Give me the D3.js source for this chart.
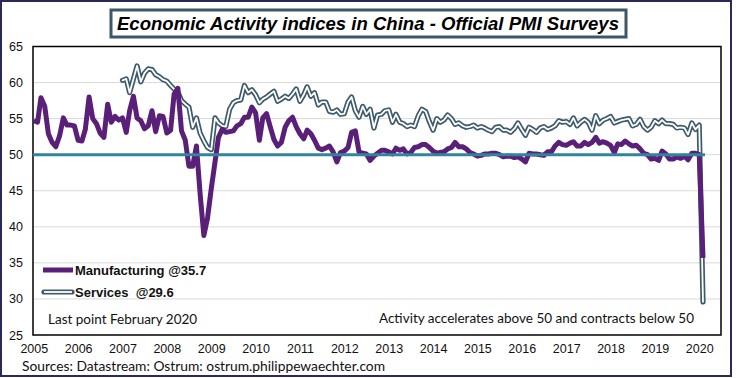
<!DOCTYPE html>
<html>
<head>
<meta charset="utf-8">
<script src="https://cdn.jsdelivr.net/npm/d3@7"></script>
<style>
  html, body { margin: 0; padding: 0; background: #fff; }
  svg { display: block; }
</style>
</head>
<body>
<svg id="chart" width="736" height="378"></svg>
<script>
// ---------------- DATA ----------------
const titleText = "Economic Activity indices in China - Official PMI Surveys";
const mfgStart = "2005-01";
const srvStart = "2007-01";
// Manufacturing PMI, monthly from Jan 2005 to Feb 2020
const mfg2005 = [54.7, 54.5, 57.9, 56.7, 52.9, 51.7, 51.1, 52.6, 55.1, 54.1, 54.1, 54.0];
const mfg2006 = [52.0, 51.9, 53.5, 58.0, 55.0, 54.3, 53.0, 52.4, 57.0, 54.5, 55.3, 54.8];
const mfg2007 = [55.1, 53.1, 56.1, 58.1, 55.1, 54.7, 53.6, 54.0, 56.1, 53.2, 55.4, 55.3];
const mfg2008 = [53.0, 53.4, 58.4, 59.2, 53.3, 52.0, 48.4, 48.4, 51.2, 44.6, 38.8, 41.2];
const mfg2009 = [45.3, 49.0, 52.4, 53.5, 53.1, 53.2, 53.3, 54.0, 54.3, 55.2, 55.2, 56.6];
const mfg2010 = [55.8, 52.0, 55.1, 55.7, 53.9, 52.1, 51.2, 51.7, 53.8, 54.7, 55.2, 53.9];
const mfg2011 = [52.9, 52.2, 53.4, 52.9, 52.0, 50.9, 50.7, 50.9, 51.2, 50.4, 49.0, 50.3];
const mfg2012 = [50.5, 51.0, 53.1, 53.3, 50.4, 50.2, 50.1, 49.2, 49.8, 50.2, 50.6, 50.6];
const mfg2013 = [50.4, 50.1, 50.9, 50.6, 50.8, 50.1, 50.3, 51.0, 51.1, 51.4, 51.4, 51.0];
const mfg2014 = [50.5, 50.2, 50.3, 50.4, 50.8, 51.0, 51.7, 51.1, 51.1, 50.8, 50.3, 50.1];
const mfg2015 = [49.8, 49.9, 50.1, 50.1, 50.2, 50.2, 50.0, 49.7, 49.8, 49.8, 49.6, 49.7];
const mfg2016 = [49.4, 49.0, 50.2, 50.1, 50.1, 50.0, 49.9, 50.4, 50.4, 51.2, 51.7, 51.4];
const mfg2017 = [51.3, 51.6, 51.8, 51.2, 51.2, 51.7, 51.4, 51.7, 52.4, 51.6, 51.8, 51.6];
const mfg2018 = [51.3, 50.3, 51.5, 51.4, 51.9, 51.5, 51.2, 51.3, 50.8, 50.2, 50.0, 49.4];
const mfg2019 = [49.5, 49.2, 50.5, 50.1, 49.4, 49.4, 49.7, 49.5, 49.8, 49.3, 50.2, 50.2];
const mfg2020 = [50.0, 35.7];
// Services (non-manufacturing) PMI, monthly from Jan 2007 to Feb 2020
const srv2007 = [60.3, 60.5, 58.6, 60.5, 62.3, 60.1, 61.3, 61.9, 61.8, 61.1, 60.8, 60.4];
const srv2008 = [60.2, 59.6, 59.1, 58.7, 57.5, 57.0, 56.6, 53.8, 55.1, 53.0, 51.9, 51.0];
const srv2009 = [50.7, 55.1, 54.4, 54.0, 53.9, 56.3, 57.2, 57.5, 57.6, 59.6, 58.6, 59.0];
const srv2010 = [58.3, 57.2, 57.7, 58.0, 58.4, 58.8, 57.4, 57.7, 58.1, 57.8, 58.4, 59.1];
const srv2011 = [57.4, 58.3, 59.4, 58.1, 58.6, 56.9, 57.3, 57.3, 56.0, 55.9, 56.2, 55.6];
const srv2012 = [55.7, 57.3, 58.0, 56.1, 55.2, 56.7, 55.6, 56.3, 53.7, 55.5, 55.6, 56.1];
const srv2013 = [56.2, 54.5, 55.6, 54.5, 54.3, 53.9, 54.1, 53.9, 55.4, 56.3, 56.0, 54.6];
const srv2014 = [53.4, 55.0, 54.5, 54.8, 55.5, 55.0, 54.2, 54.4, 54.0, 53.8, 53.9, 54.1];
const srv2015 = [53.7, 53.9, 53.7, 53.4, 53.2, 53.8, 53.9, 53.4, 53.4, 53.1, 53.6, 54.4];
const srv2016 = [53.5, 52.7, 53.8, 53.5, 53.1, 53.7, 53.9, 53.5, 53.7, 54.0, 54.7, 54.5];
const srv2017 = [54.6, 54.2, 55.1, 54.0, 54.5, 54.9, 54.5, 53.4, 55.4, 54.3, 54.8, 55.0];
const srv2018 = [55.3, 54.4, 54.6, 54.8, 54.9, 55.0, 54.0, 54.2, 54.9, 53.9, 53.4, 53.8];
const srv2019 = [54.7, 54.3, 54.8, 54.3, 54.3, 54.2, 53.7, 53.8, 53.7, 52.8, 54.4, 53.5];
const srv2020 = [54.1, 29.6];
const yTicks = [25, 30, 35, 40, 45, 50, 55, 60, 65];
const xYears = [2005, 2006, 2007, 2008, 2009, 2010, 2011, 2012, 2013, 2014, 2015, 2016, 2017, 2018, 2019, 2020];
const seriesNames = ["Manufacturing @35.7", "Services  @29.6"];
const noteLeft = "Last point February 2020";
const noteRight = "Activity accelerates above 50 and contracts below 50";
const sourceText = "Sources: Datastream: Ostrum: ostrum.philippewaechter.com";
const refLevel = 50;

// ---------------- BUILD ----------------
const parseM = d3.timeParse("%Y-%m");
function toSeries(start, values) {
  const s = parseM(start);
  return values.map((v, i) => ({ date: d3.timeMonth.offset(s, i), value: v }));
}
const mfg = toSeries(mfgStart, [].concat(mfg2005, mfg2006, mfg2007, mfg2008, mfg2009, mfg2010,
  mfg2011, mfg2012, mfg2013, mfg2014, mfg2015, mfg2016, mfg2017, mfg2018, mfg2019, mfg2020));
const srv = toSeries(srvStart, [].concat(srv2007, srv2008, srv2009, srv2010, srv2011, srv2012,
  srv2013, srv2014, srv2015, srv2016, srv2017, srv2018, srv2019, srv2020));

const svg = d3.select("#chart");
const plot = { left: 33, right: 721, top: 46.5, bottom: 335 };

const x = d3.scaleTime()
  .domain([parseM("2005-01"), parseM("2020-02")])
  .range([33.8, 703]);
const y = d3.scaleLinear().domain([25, 65]).range([plot.bottom, plot.top]);

// outer border
svg.append("rect").attr("x", 1).attr("y", 1).attr("width", 730).attr("height", 375)
  .attr("fill", "#fff").attr("stroke", "#2a2a5a").attr("stroke-width", 2);

// gridlines
svg.append("g").selectAll("line").data(yTicks.filter(d => d > 25 && d < 65)).join("line")
  .attr("x1", plot.left).attr("x2", plot.right)
  .attr("y1", d => y(d)).attr("y2", d => y(d))
  .attr("stroke", "#d9d9d9").attr("stroke-width", 1);

// y axis labels
const yAxis = d3.axisLeft(y).tickValues(yTicks).tickSize(0).tickPadding(10);
const gy = svg.append("g").attr("transform", `translate(${plot.left},0)`).call(yAxis);
gy.select(".domain").remove();
gy.selectAll("text").attr("font-family", "Liberation Sans, Arial, sans-serif")
  .attr("font-size", 12.5).attr("fill", "#111");

// x axis labels
const xAxis = d3.axisBottom(x).tickValues(xYears.map(yv => new Date(yv, 0, 1)))
  .tickFormat(d3.timeFormat("%Y")).tickSize(0).tickPadding(9);
const gx = svg.append("g").attr("transform", `translate(0,${plot.bottom})`).call(xAxis);
gx.select(".domain").remove();
gx.selectAll("text").attr("font-family", "Liberation Sans, Arial, sans-serif")
  .attr("font-size", 12.5).attr("fill", "#111");

// plot frame
svg.append("rect").attr("x", plot.left).attr("y", plot.top)
  .attr("width", plot.right - plot.left).attr("height", plot.bottom - plot.top)
  .attr("fill", "none").attr("stroke", "#000").attr("stroke-width", 1.5);

const line = d3.line().x(d => x(d.date)).y(d => y(d.value));

// services: double line
svg.append("path").datum(srv).attr("d", line).attr("fill", "none")
  .attr("stroke", "#3d5a6c").attr("stroke-width", 5.2)
  .attr("stroke-linejoin", "round").attr("stroke-linecap", "round");
svg.append("path").datum(srv).attr("d", line).attr("fill", "none")
  .attr("stroke", "#fff").attr("stroke-width", 1.8)
  .attr("stroke-linejoin", "round").attr("stroke-linecap", "round");

// manufacturing
svg.append("path").datum(mfg).attr("d", line).attr("fill", "none")
  .attr("stroke", "#5a1f78").attr("stroke-width", 5).attr("stroke-linejoin", "round");

// 50 line
svg.append("line").attr("x1", plot.left).attr("x2", x(parseM("2020-02")) + 2)
  .attr("y1", y(refLevel)).attr("y2", y(refLevel))
  .attr("stroke", "#31849b").attr("stroke-width", 3);

// legend
const lg = svg.append("g");
lg.append("line").attr("x1", 43).attr("x2", 73).attr("y1", 270).attr("y2", 270)
  .attr("stroke", "#5a1f78").attr("stroke-width", 5);
lg.append("line").attr("x1", 44).attr("x2", 72).attr("y1", 292).attr("y2", 292)
  .attr("stroke", "#3d5a6c").attr("stroke-width", 5.2).attr("stroke-linecap", "round");
lg.append("line").attr("x1", 44).attr("x2", 72).attr("y1", 292).attr("y2", 292)
  .attr("stroke", "#fff").attr("stroke-width", 1.8);
lg.selectAll("text").data(seriesNames).join("text")
  .attr("x", 75).attr("y", (d, i) => 274.5 + i * 22)
  .attr("font-family", "Liberation Sans, Arial, sans-serif").attr("font-weight", "bold")
  .attr("font-size", 13).attr("fill", "#111")
  .style("white-space", "pre").text(d => d);

// notes
svg.append("text").attr("x", 48).attr("y", 324).text(noteLeft)
  .attr("font-family", "Lato, sans-serif").attr("font-size", 13.5).attr("fill", "#111");
svg.append("text").attr("x", 694).attr("y", 323).attr("text-anchor", "end").text(noteRight)
  .attr("font-family", "Lato, sans-serif").attr("font-size", 13.5).attr("fill", "#111");
svg.append("text").attr("x", 22).attr("y", 371).text(sourceText)
  .attr("font-family", "Lato, sans-serif").attr("font-size", 13.8).attr("fill", "#111");

// title box
svg.append("rect").attr("x", 111).attr("y", 10).attr("width", 515).attr("height", 27)
  .attr("fill", "#fff").attr("stroke", "#3f5666").attr("stroke-width", 3);
svg.append("text").attr("x", 368).attr("y", 30).attr("text-anchor", "middle")
  .attr("font-family", "Liberation Sans, Arial, sans-serif").attr("font-weight", "bold")
  .attr("font-style", "italic").attr("font-size", 19).attr("fill", "#000")
  .attr("textLength", 502).attr("lengthAdjust", "spacingAndGlyphs")
  .text(titleText);
</script>
</body>
</html>
